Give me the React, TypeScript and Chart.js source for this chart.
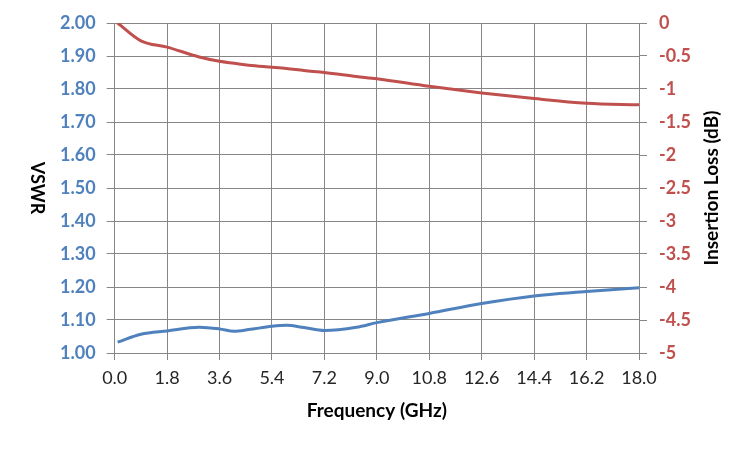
import React, { useEffect, useRef } from 'react';
import { Chart, registerables } from 'chart.js';

Chart.register(...registerables);

// Frequency points (GHz)
const freqGHz = [0.1, 0.9, 1.8, 2.9, 3.6, 4.1, 4.6, 5.4, 5.9, 6.5, 7.2, 8.3, 9.0, 10.8, 12.6, 14.4, 16.2, 18.0];
// VSWR (left axis)
const vswr = [1.033, 1.057, 1.067, 1.078, 1.073, 1.066, 1.071, 1.081, 1.084, 1.077, 1.068, 1.078, 1.092, 1.12, 1.15, 1.173, 1.186, 1.198];
// Insertion loss in dB (right axis)
const insertionLoss = [0.0, -0.27, -0.365, -0.515, -0.58, -0.61, -0.64, -0.67, -0.69, -0.72, -0.75, -0.81, -0.845, -0.96, -1.06, -1.145, -1.215, -1.24];

const xTicks = [0, 1.8, 3.6, 5.4, 7.2, 9.0, 10.8, 12.6, 14.4, 16.2, 18.0];
const vswrTicks = [1.0, 1.1, 1.2, 1.3, 1.4, 1.5, 1.6, 1.7, 1.8, 1.9, 2.0];
const lossTicks = [0, -0.5, -1, -1.5, -2, -2.5, -3, -3.5, -4, -4.5, -5];

const BLUE = '#4F81BD';
const RED = '#C0504D';
const GRID = '#868686';
const FONT = 'Lato, "Open Sans", sans-serif';

// axis titles: left reads top-to-bottom, right reads bottom-to-top
const titlesPlugin = {
  id: 'axisTitles',
  afterDraw(chart: Chart) {
    const { ctx, chartArea } = chart;
    const midY = (chartArea.top + chartArea.bottom) / 2;
    ctx.save();
    ctx.fillStyle = '#000';
    ctx.textAlign = 'center';
    ctx.textBaseline = 'middle';

    ctx.save();
    ctx.font = `bold 18px ${FONT}`;
    ctx.translate(37, midY);
    ctx.rotate(Math.PI / 2);
    ctx.fillText('VSWR', 0, 0);
    ctx.restore();

    ctx.font = `bold 19px ${FONT}`;
    ctx.save();
    ctx.translate(712, midY);
    ctx.rotate(-Math.PI / 2);
    ctx.fillText('Insertion Loss (dB)', 0, 0);
    ctx.restore();

    ctx.fillText('Frequency (GHz)', (chartArea.left + chartArea.right) / 2, 411);
    ctx.restore();
  },
};

const App: React.FC = () => {
  const canvasRef = useRef<HTMLCanvasElement | null>(null);
  const chartRef = useRef<Chart | null>(null);

  useEffect(() => {
    document.body.style.margin = '0';
    if (!canvasRef.current) return;
    if (chartRef.current) chartRef.current.destroy();

    chartRef.current = new Chart(canvasRef.current, {
      type: 'line',
      data: {
        datasets: [
          {
            label: 'VSWR',
            data: freqGHz.map((f, i) => ({ x: f, y: vswr[i] })),
            borderColor: BLUE,
            borderWidth: 3,
            pointRadius: 0,
            cubicInterpolationMode: 'monotone',
            yAxisID: 'y',
          },
          {
            label: 'Insertion Loss',
            data: freqGHz.map((f, i) => ({ x: f, y: insertionLoss[i] })),
            borderColor: RED,
            borderWidth: 3,
            pointRadius: 0,
            cubicInterpolationMode: 'monotone',
            yAxisID: 'y1',
          },
        ],
      },
      options: {
        responsive: false,
        animation: false,
        layout: { padding: { top: 23, left: 0, right: 0, bottom: 0 } },
        plugins: {
          legend: { display: false },
          tooltip: { enabled: false },
        },
        scales: {
          x: {
            type: 'linear',
            min: 0,
            max: 18,
            afterBuildTicks: (axis: any) => {
              axis.ticks = xTicks.map((v) => ({ value: v }));
            },
            afterFit: (axis: any) => {
              axis.height = 97;
            },
            grid: { color: GRID, tickLength: 7, lineWidth: 1 },
            border: { display: false },
            ticks: {
              color: '#262626',
              padding: 7,
              maxRotation: 0,
              font: { family: FONT, size: 18 },
              callback: (v: any) => Number(v).toFixed(1),
            },
          },
          y: {
            position: 'left',
            min: 1,
            max: 2,
            afterBuildTicks: (axis: any) => {
              axis.ticks = vswrTicks.map((v) => ({ value: v }));
            },
            afterFit: (axis: any) => {
              axis.width = 114.7;
            },
            grid: { color: GRID, tickLength: 8, lineWidth: 1 },
            border: { display: false },
            ticks: {
              color: BLUE,
              padding: 11,
              font: { family: FONT, size: 18, weight: 'bold' },
              callback: (v: any) => Number(v).toFixed(2),
            },
          },
          y1: {
            position: 'right',
            min: -5,
            max: 0,
            afterBuildTicks: (axis: any) => {
              axis.ticks = lossTicks.map((v) => ({ value: v }));
            },
            afterFit: (axis: any) => {
              axis.width = 111;
            },
            grid: { color: GRID, tickLength: 8, drawOnChartArea: false },
            border: { display: false },
            ticks: {
              color: RED,
              padding: 12,
              font: { family: FONT, size: 18, weight: 'bold' },
              callback: (v: any) => String(v),
            },
          },
        },
      },
      plugins: [titlesPlugin],
    });

    return () => {
      if (chartRef.current) {
        chartRef.current.destroy();
        chartRef.current = null;
      }
    };
  }, []);

  return (
    <div style={{ width: 750, height: 450, background: '#fff' }}>
      <canvas ref={canvasRef} width={750} height={450} style={{ width: 750, height: 450 }} />
    </div>
  );
};

export default App;
